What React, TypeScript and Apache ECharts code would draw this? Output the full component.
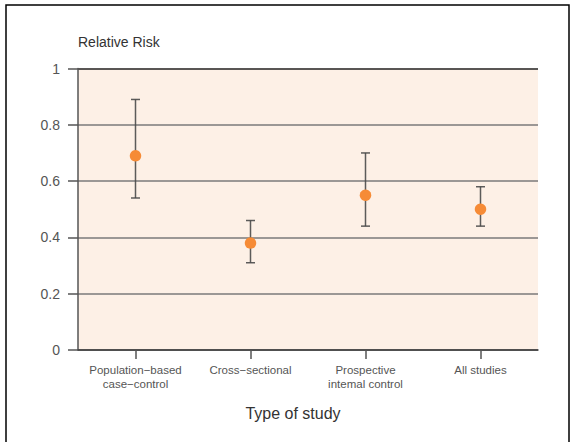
import React, { useEffect, useRef } from "react";
import * as echarts from "echarts";

const categories = [
  "Population\u2212based\ncase\u2212control",
  "Cross\u2212sectional",
  "Prospective\nintemal control",
  "All studies",
];
const riskValues = [0.69, 0.38, 0.55, 0.5];
const lowerValues = [0.54, 0.31, 0.44, 0.44];
const upperValues = [0.89, 0.46, 0.7, 0.58];
const yTicks = [0, 0.2, 0.4, 0.6, 0.8, 1];

const FONT = "Liberation Sans, Arial, sans-serif";

export default function App() {
  const ref = useRef<HTMLDivElement>(null);
  useEffect(() => {
    if (!ref.current) return;
    const chart = echarts.init(ref.current, null, { renderer: "svg" });
    const errData = categories.map((_, i) => [i, lowerValues[i], upperValues[i]]);
    chart.setOption({
      animation: false,
      backgroundColor: "#ffffff",
      textStyle: { fontFamily: FONT },
      graphic: [
        {
          type: "rect",
          shape: { x: 6, y: 5, width: 563, height: 460 },
          style: { fill: "none", stroke: "#000", lineWidth: 1.5 },
          silent: true,
          z: 100,
        },
      ],
      grid: {
        left: 78,
        right: 32,
        top: 68.5,
        bottom: 92,
        show: true,
        backgroundColor: "#FDF0E6",
        borderWidth: 0,
      },
      xAxis: {
        type: "category",
        data: categories,
        boundaryGap: true,
        name: "Type of study",
        nameLocation: "middle",
        nameGap: 55,
        nameTextStyle: { fontSize: 16, color: "#333", fontFamily: FONT, padding: [0, 30, 0, 0] },
        axisLine: { show: true, lineStyle: { color: "#444", width: 1.5 } },
        axisTick: { show: true, alignWithLabel: true, length: 9, lineStyle: { color: "#555", width: 1.5 } },
        axisLabel: { color: "#555", fontSize: 11.5, lineHeight: 14, margin: 13, interval: 0, fontFamily: FONT },
        splitLine: { show: false },
      },
      yAxis: {
        type: "value",
        min: 0,
        max: 1,
        interval: 0.2,
        name: "Relative Risk",
        nameLocation: "end",
        nameGap: 20,
        nameTextStyle: { fontSize: 14, color: "#333", align: "left", fontFamily: FONT },
        axisLine: { show: true, lineStyle: { color: "#555", width: 1.5 } },
        axisTick: { show: true, inside: false, length: 10, lineStyle: { color: "#555", width: 1.5 } },
        axisLabel: {
          color: "#555",
          fontSize: 14,
          margin: 18,
          fontFamily: FONT,
          formatter: (v: number) => (yTicks.includes(Math.round(v * 10) / 10) ? String(Math.round(v * 10) / 10) : ""),
        },
        splitLine: {
          show: true,
          lineStyle: { color: ["#444", "#7a7a7a", "#7a7a7a", "#7a7a7a", "#7a7a7a", "#222"], width: 1.5 },
        },
      },
      series: [
        {
          type: "custom",
          data: errData,
          z: 3,
          renderItem: (params: any, api: any) => {
            const x = api.value(0);
            const lo = api.coord([x, api.value(1)]);
            const hi = api.coord([x, api.value(2)]);
            const hw = 4.5;
            const style = { stroke: "#4a4a4a", lineWidth: 1.5, opacity: 0.9 };
            return {
              type: "group",
              children: [
                { type: "line", shape: { x1: lo[0], y1: lo[1], x2: hi[0], y2: hi[1] }, style },
                { type: "line", shape: { x1: lo[0] - hw, y1: lo[1], x2: lo[0] + hw, y2: lo[1] }, style },
                { type: "line", shape: { x1: hi[0] - hw, y1: hi[1], x2: hi[0] + hw, y2: hi[1] }, style },
              ],
            };
          },
        },
        {
          type: "scatter",
          data: riskValues,
          symbol: "circle",
          symbolSize: 11.5,
          z: 4,
          itemStyle: { color: "#F68B36", opacity: 1 },
        },
      ],
    });
    return () => chart.dispose();
  }, []);
  return (
    <div
      ref={ref}
      style={{ position: "fixed", left: 0, top: 0, width: 570, height: 442 }}
    />
  );
}
